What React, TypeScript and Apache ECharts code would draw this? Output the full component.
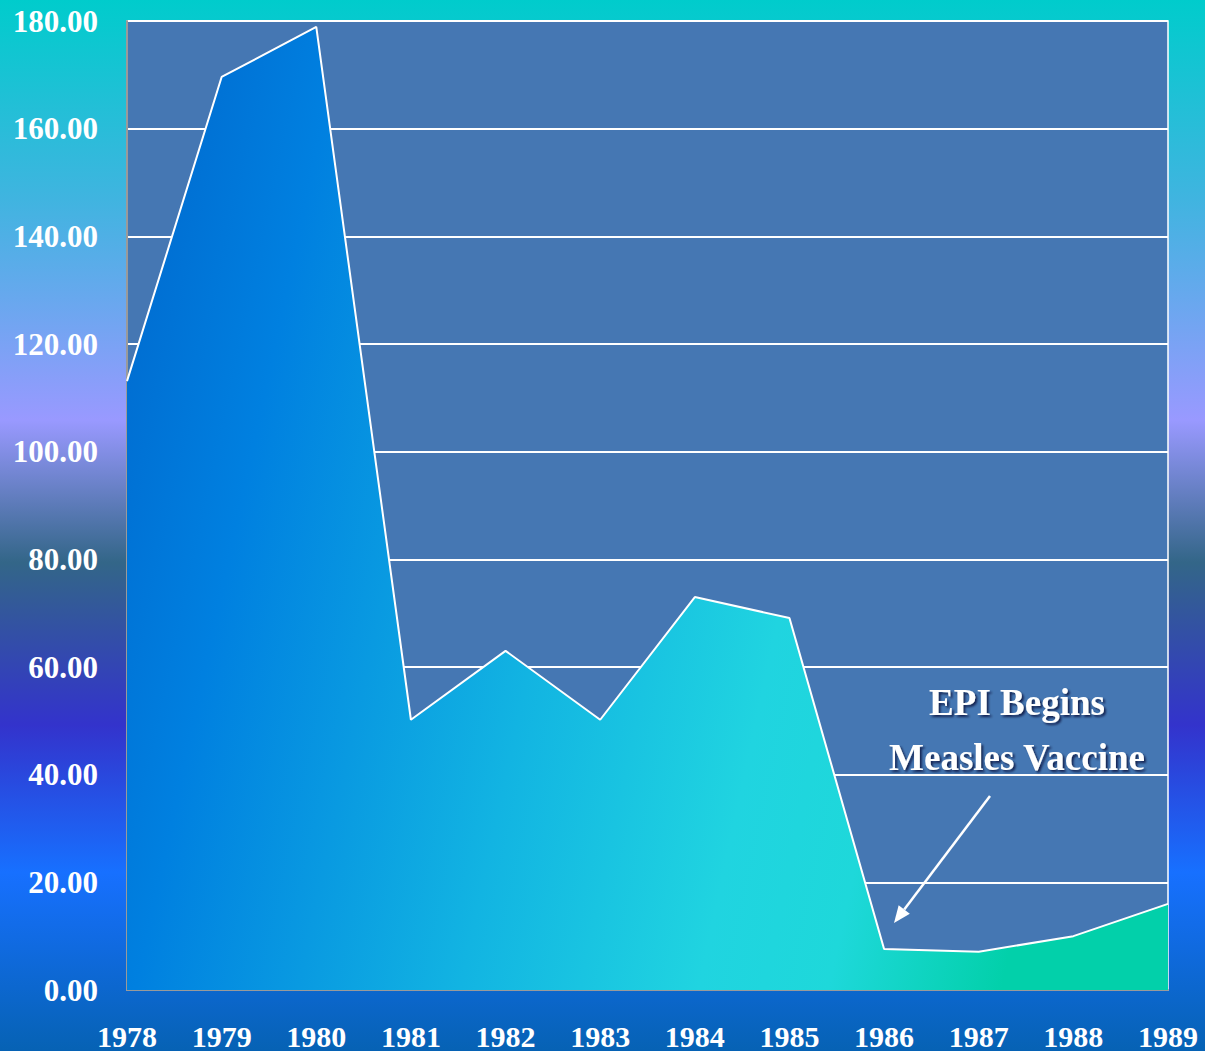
import React, { useEffect, useRef } from "react";
import * as echarts from "echarts";

const years = ["1978", "1979", "1980", "1981", "1982", "1983", "1984", "1985", "1986", "1987", "1988", "1989"];
const cases = [113.1, 169.6, 178.9, 50.2, 63.0, 50.2, 73.0, 69.1, 7.6, 7.1, 10.0, 16.0];
const annotationLines = ["EPI Begins", "Measles Vaccine"];

const FONT = "'Liberation Serif', 'Times New Roman', serif";

export default function App() {
  const ref = useRef<HTMLDivElement>(null);
  useEffect(() => {
    if (!ref.current) return;
    const chart = echarts.init(ref.current, undefined, { renderer: "svg" });
    const tip = [894, 923];
    const start = [990, 796];
    const dx = tip[0] - start[0];
    const dy = tip[1] - start[1];
    const len = Math.sqrt(dx * dx + dy * dy);
    const ux = dx / len, uy = dy / len;
    const headL = 17, headW = 7;
    const bx = tip[0] - ux * headL, by = tip[1] - uy * headL;
    const nx = -uy, ny = ux;
    chart.setOption({
      animation: false,
      graphic: [
        {
          type: "rect",
          z: -100,
          silent: true,
          shape: { x: 0, y: 0, width: 1205, height: 1051 },
          style: {
            fill: new echarts.graphic.LinearGradient(0, 0, 0, 1, [
              { offset: 0, color: "#00CCCC" },
              { offset: 0.19, color: "#40B4E0" },
              { offset: 0.4, color: "#9999FF" },
              { offset: 0.535, color: "#336688" },
              { offset: 0.69, color: "#3333CC" },
              { offset: 0.83, color: "#1770FF" },
              { offset: 1, color: "#0662B4" },
            ]),
          },
        },
        {
          type: "line",
          z: 100,
          shape: { x1: start[0], y1: start[1], x2: bx, y2: by },
          style: { stroke: "#ffffff", lineWidth: 2.5 },
        },
        {
          type: "polygon",
          z: 100,
          shape: {
            points: [
              [tip[0], tip[1]],
              [bx + nx * headW, by + ny * headW],
              [bx - nx * headW, by - ny * headW],
            ],
          },
          style: { fill: "#ffffff" },
        },
        ...annotationLines.map((t, i) => ({
          type: "text",
          z: 100,
          x: 1017,
          y: 702 + i * 55,
          style: {
            text: t,
            fill: "#ffffff",
            font: `bold 37px ${FONT}`,
            align: "center",
            verticalAlign: "middle",
            textShadowColor: "rgba(0,0,40,0.7)",
            textShadowOffsetX: 2,
            textShadowOffsetY: 2,
            textShadowBlur: 2,
          },
        })),
      ],
      grid: {
        left: 127,
        top: 21,
        right: 37,
        bottom: 61,
        show: true,
        backgroundColor: "#4577B3",
        borderColor: "#ffffff",
        borderWidth: 1.5,
      },
      xAxis: {
        type: "category",
        data: years,
        boundaryGap: false,
        axisLine: { show: true, lineStyle: { color: "#9a9a9a", width: 2 } },
        axisTick: { show: false },
        splitLine: { show: false },
        axisLabel: {
          color: "#ffffff",
          fontFamily: FONT,
          fontWeight: "bold",
          fontSize: 30,
          margin: 31,
          interval: 0,
        },
      },
      yAxis: {
        type: "value",
        min: 0,
        max: 180,
        interval: 20,
        axisLine: { show: true, lineStyle: { color: "#9a9a9a", width: 2 } },
        axisTick: { show: false },
        splitLine: { show: true, lineStyle: { color: "#ffffff", width: 2 } },
        axisLabel: {
          color: "#ffffff",
          fontFamily: FONT,
          fontWeight: "bold",
          fontSize: 31,
          margin: 29,
          formatter: (v: number) => v.toFixed(2),
        },
      },
      series: [
        {
          type: "line",
          data: cases,
          symbol: "none",
          smooth: false,
          lineStyle: { color: "#ffffff", width: 2 },
          areaStyle: {
            opacity: 1,
            color: new echarts.graphic.LinearGradient(0, 0, 1, 0.2, [
              { offset: 0, color: "#0066CC" },
              { offset: 0.2, color: "#0080E0" },
              { offset: 0.5, color: "#12B4E2" },
              { offset: 0.72, color: "#20D4E0" },
              { offset: 0.84, color: "#1ED8DA" },
              { offset: 1, color: "#02D0AA" },
            ]),
          },
        },
      ],
    });
    return () => chart.dispose();
  }, []);
  return (
    <div
      ref={ref}
      style={{ position: "absolute", left: 0, top: 0, width: 1205, height: 1051 }}
    />
  );
}
